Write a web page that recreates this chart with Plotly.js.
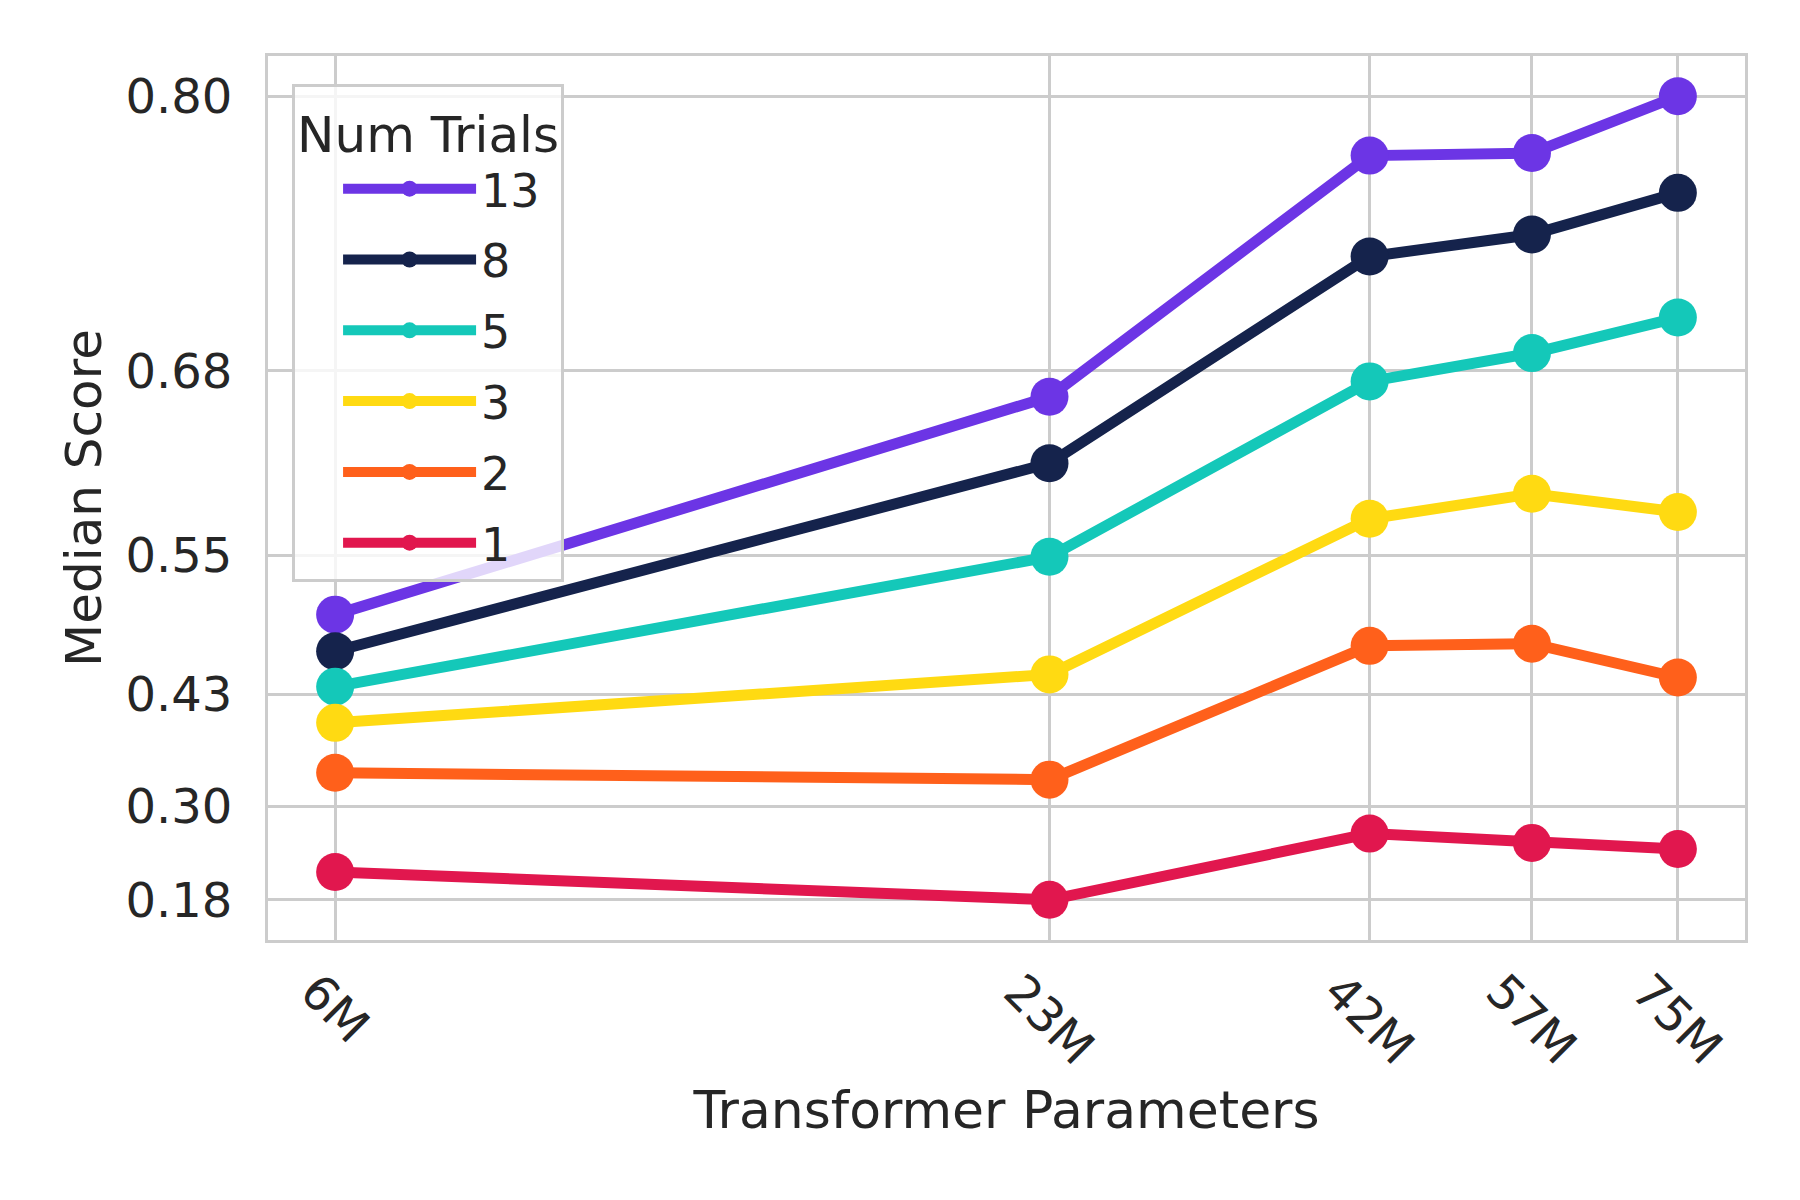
<!DOCTYPE html>
<html>
<head>
<meta charset="utf-8">
<script src="https://cdn.plot.ly/plotly-3.0.1.min.js"></script>
<style>
  body { margin: 0; background: #fff; }
  #chart { width: 1800px; height: 1200px; }
</style>
</head>
<body>
<div id="chart"></div>
<script>
// model sizes in millions of parameters
var params = [6, 23, 42, 57, 75];
var paramLabels = ['6M', '23M', '42M', '57M', '75M'];

// median score per number of trials
var trialNames = ['13', '8', '5', '3', '2', '1'];
var trials13 = [0.503, 0.661, 0.778, 0.779, 0.800];
var trials8  = [0.470, 0.619, 0.735, 0.745, 0.763];
var trials5  = [0.436, 0.551, 0.670, 0.686, 0.705];
var trials3  = [0.399, 0.448, 0.580, 0.598, 0.585];
var trials2  = [0.344, 0.336, 0.475, 0.477, 0.445];
var trials1  = [0.219, 0.180, 0.270, 0.258, 0.250];

var scoreTicks = [0.18, 0.304, 0.428, 0.552, 0.676, 0.80];
var scoreTickLabels = ['0.18', '0.30', '0.43', '0.55', '0.68', '0.80'];

var colors = ['#6c35e5', '#15234c', '#14c8b9', '#ffda12', '#ff601b', '#e1174e'];
var series = [trials13, trials8, trials5, trials3, trials2, trials1];

var textColor = '#262626';
var font = 'DejaVu Sans, sans-serif';

// y is shown on a 1 - score log scale (reversed), like the original figure
function flip(v) { return 1 - v; }

var data = series.map(function (vals, i) {
  return {
    x: params,
    y: vals.map(flip),
    name: trialNames[i],
    legendgroup: 'g' + i,
    type: 'scatter',
    mode: 'lines+markers',
    line: {color: colors[i], width: 11},
    marker: {color: colors[i], size: 38},
    hovertext: vals.map(function (v) { return v.toFixed(3); }),
    hoverinfo: 'text+name'
  };
});

// 5% padding in log space on both axes
var all = [].concat.apply([], series);
var yLo = Math.log10(flip(Math.min.apply(null, all)));
var yHi = Math.log10(flip(Math.max.apply(null, all)));
var yPad = (yLo - yHi) * 0.05;
var xLo = Math.log10(params[0]);
var xHi = Math.log10(params[params.length - 1]);
var xPad = (xHi - xLo) * 0.05;

var tickAnnotations = params.map(function (p, i) {
  return {
    x: Math.log10(p),
    xref: 'x',
    y: -0.023,
    yref: 'paper',
    xanchor: 'center',
    yanchor: 'top',
    text: paramLabels[i],
    textangle: 45,
    showarrow: false,
    font: {family: font, size: 48, color: textColor}
  };
});

var layout = {
  width: 1800,
  height: 1200,
  margin: {l: 268, r: 55, t: 56, b: 260},
  paper_bgcolor: '#ffffff',
  plot_bgcolor: '#ffffff',
  font: {family: font, size: 48, color: textColor},
  xaxis: {
    type: 'log',
    range: [xLo - xPad, xHi + xPad],
    tickvals: params,
    showticklabels: false,
    ticks: '',
    showgrid: true,
    gridcolor: '#cccccc',
    gridwidth: 3,
    zeroline: false,
    showline: true,
    mirror: true,
    linecolor: '#cccccc',
    linewidth: 3,
    title: {text: 'Transformer Parameters', font: {size: 52}, standoff: 150}
  },
  yaxis: {
    type: 'log',
    range: [yLo + yPad, yHi - yPad],
    tickvals: scoreTicks.map(flip),
    ticktext: scoreTickLabels,
    ticks: '',
    ticklabelstandoff: 23,
    tickfont: {size: 48},
    showgrid: true,
    gridcolor: '#cccccc',
    gridwidth: 3,
    zeroline: false,
    showline: true,
    mirror: true,
    linecolor: '#cccccc',
    linewidth: 3,
    title: {text: 'Median Score', font: {size: 50}, standoff: 9}
  },
  legend: {
    x: 0.0163,
    y: 0.968,
    xanchor: 'left',
    yanchor: 'top',
    bgcolor: 'rgba(255,255,255,0.8)',
    bordercolor: '#cccccc',
    borderwidth: 3,
    traceorder: 'grouped',
    tracegroupgap: 8,
    indentation: 43,
    itemwidth: 133,
    entrywidth: 300,
    font: {size: 46},
    title: {text: 'Num Trials', font: {size: 50}, side: 'top center'}
  },
  annotations: tickAnnotations,
  showlegend: true
};

Plotly.newPlot('chart', data, layout, {displayModeBar: false, staticPlot: true});
</script>
</body>
</html>
